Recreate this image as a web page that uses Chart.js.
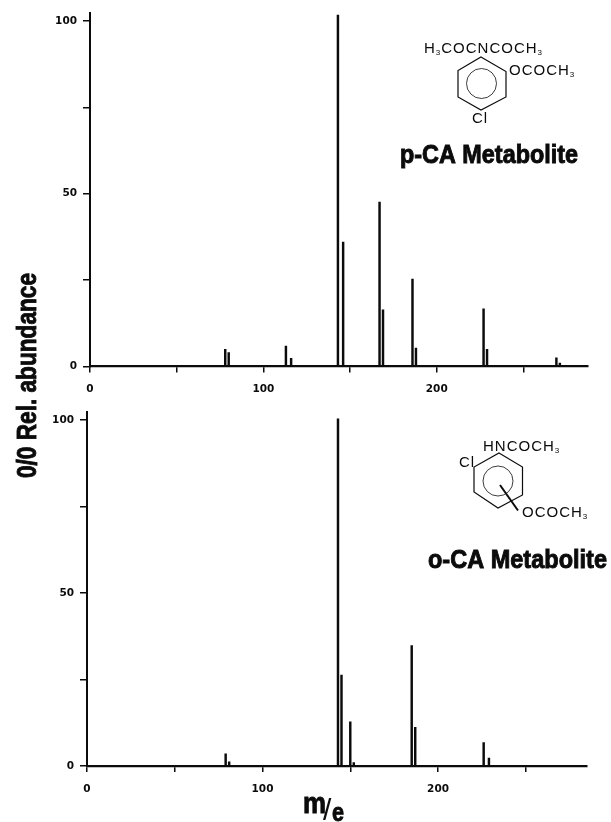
<!DOCTYPE html>
<html><head><meta charset="utf-8">
<script src="https://cdn.jsdelivr.net/npm/chart.js@4"></script>
<style>
html,body{margin:0;padding:0;background:#fff;width:611px;height:822px;overflow:hidden}
canvas{position:absolute;left:0;top:0}
</style></head><body>
<canvas id="top" width="611" height="822"></canvas>
<canvas id="bottom" width="611" height="822"></canvas>
<script>
// Data
const pMz   = [78, 80, 113, 116, 143, 146, 167, 169, 186, 188, 227, 229, 269, 271];
const pAbun = [5, 4, 5.9, 2.4, 101.7, 36, 47.6, 16.4, 25.3, 5.3, 16.7, 5, 2.5, 1];
const oMz   = [79, 81, 143, 145, 150, 152, 185, 187, 226, 229];
const oAbun = [3.5, 1.2, 100.3, 26.3, 12.8, 1, 34.8, 11.2, 6.8, 2.3];
const xTickLabels = [0, 100, 200];
const yTickLabels = [0, 50, 100];
const pName = "p-CA Metabolite";
const oName = "o-CA Metabolite";
const yTitle = "0/0 Rel. abundance";

const INK = "#0b0b0b";
const tickFont = {family:"'DejaVu Sans'", size:10.5, weight:"bold"};

function spectrumConfig(mz, abun, g, extra){
  return {
    type:"bar",
    data:{datasets:[{data:mz.map((m,i)=>({x:m,y:abun[i]})),backgroundColor:INK,barThickness:1.8,borderWidth:0}]},
    options:{
      responsive:false,animation:false,
      layout:{padding:{left:0,right:611-g.right,top:g.top,bottom:0}},
      plugins:{legend:{display:false},tooltip:{enabled:false}},
      scales:{
        x:{type:"linear",min:0,max:g.xMax,offset:false,
          afterFit:s=>{s.height=822-g.base},
          border:{color:INK,width:2.2},
          grid:{drawOnChartArea:false,color:INK,lineWidth:1.5,tickLength:6,offset:false},
          ticks:{stepSize:50,autoSkip:false,maxRotation:0,padding:g.xPad,color:INK,font:tickFont,includeBounds:false,
            callback:v=>xTickLabels.includes(v)?String(v):""}},
        y:{min:0,max:102.3,
          afterFit:s=>{s.width=g.left},
          border:{color:INK,width:2},
          grid:{drawOnChartArea:false,color:INK,lineWidth:1.5,tickLength:7},
          ticks:{stepSize:25,includeBounds:false,autoSkip:false,padding:6,color:INK,font:tickFont,
            callback:v=>yTickLabels.includes(v)?String(v):""}}
      }
    },
    plugins:extra
  };
}

// Writes a formula with small subscript digits, letter-spaced
function formula(ctx,parts,x,y){
  ctx.save();ctx.fillStyle=INK;ctx.textAlign="left";ctx.textBaseline="alphabetic";
  ctx.letterSpacing="1px";
  for(const p of parts){
    const sub=/^\d$/.test(p);
    ctx.font=sub?"8px 'Liberation Sans'":"15px 'Liberation Sans'";
    ctx.fillText(p,x,sub?y+2:y);
    x+=ctx.measureText(p).width;
  }
  ctx.restore();
}
function ring(ctx,pts,cx,cy,r){
  ctx.save();ctx.strokeStyle=INK;ctx.lineWidth=1.2;ctx.beginPath();
  pts.forEach((p,i)=>i?ctx.lineTo(p[0],p[1]):ctx.moveTo(p[0],p[1]));
  ctx.closePath();ctx.stroke();
  ctx.lineWidth=.8;ctx.beginPath();ctx.arc(cx,cy,r,0,Math.PI*2);ctx.stroke();ctx.restore();
}
function heavy(ctx,text,x,y,size,maxW){
  ctx.save();ctx.fillStyle=INK;ctx.strokeStyle=INK;ctx.lineWidth=.9;ctx.textAlign="left";
  ctx.font="bold "+size+"px 'Liberation Sans'";
  ctx.fillText(text,x,y,maxW);ctx.strokeText(text,x,y,maxW);ctx.restore();
}

const topNotes={id:"topNotes",afterDraw(c){
  const ctx=c.ctx;
  formula(ctx,["H","3","COCNCOCH","3"],424,53);
  formula(ctx,["OCOCH","3"],509,75);
  formula(ctx,["Cl"],472,123);
  ring(ctx,[[481,57],[506,71.5],[506,97],[481,110],[458,97],[458,70.5]],481.5,83.5,15);
  heavy(ctx,pName,400,163,25,178);
}};
const bottomNotes={id:"bottomNotes",afterDraw(c){
  const ctx=c.ctx;
  formula(ctx,["HNCOCH","3"],483,451);
  formula(ctx,["OCOCH","3"],522,517);
  formula(ctx,["Cl"],459,467);
  ring(ctx,[[499,453],[522.5,467],[522.5,495],[498,508],[474,492],[474,467]],498,481,15);
  ctx.save();ctx.strokeStyle=INK;ctx.lineWidth=2;ctx.beginPath();ctx.moveTo(500,485);ctx.lineTo(518,510.5);ctx.stroke();ctx.restore();
  heavy(ctx,oName,428,568,25,179);
  // axis title shared by both panels
  ctx.save();ctx.translate(36,478);ctx.rotate(-Math.PI/2);
  heavy(ctx,yTitle,0,0,27,205);
  ctx.restore();
  heavy(ctx,"m",303,813,30,23);
  ctx.save();ctx.fillStyle=INK;ctx.font="30px 'Liberation Sans'";ctx.fillText("/",323,820);ctx.restore();
  heavy(ctx,"e",332,821,26,12);
}};

new Chart(document.getElementById("top"),spectrumConfig(pMz,pAbun,
  {left:90,right:587.6,top:13,base:366.5,xMax:287,xPad:10},[topNotes]));
new Chart(document.getElementById("bottom"),spectrumConfig(oMz,oAbun,
  {left:87,right:586.7,top:412,base:766,xMax:284.7,xPad:11},[bottomNotes]));
</script>
</body></html>
